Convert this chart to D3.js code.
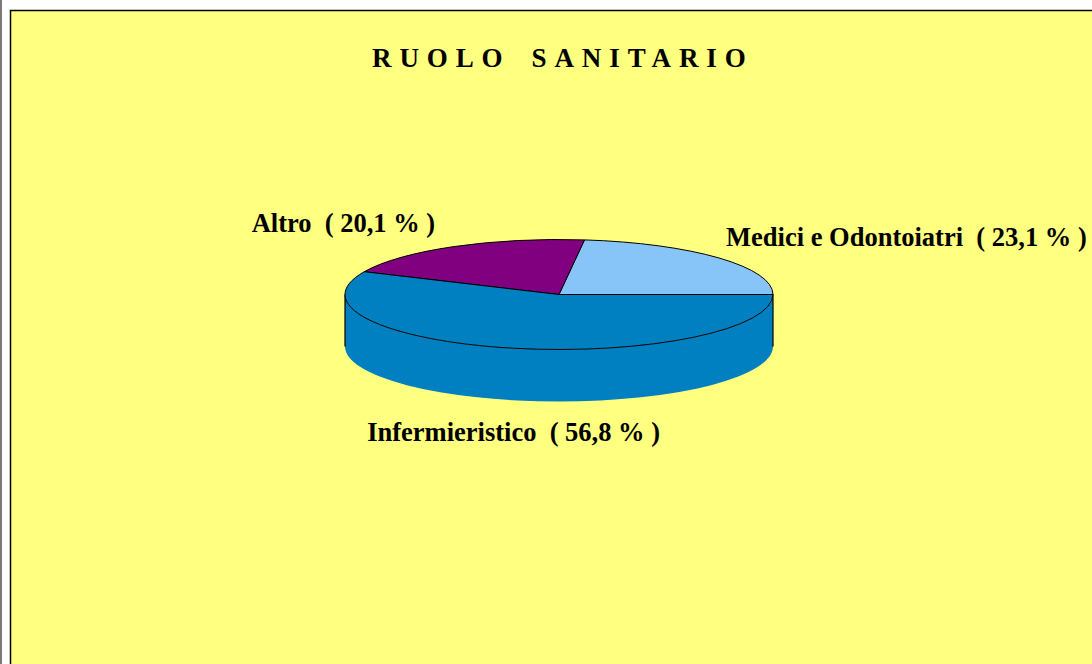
<!DOCTYPE html>
<html>
<head>
<meta charset="utf-8">
<script src="https://cdn.jsdelivr.net/npm/d3@7"></script>
<style>
  html, body { margin: 0; padding: 0; background: #fff; }
  svg { display: block; }
  text { font-family: 'Liberation Serif', 'Times New Roman', serif; font-weight: bold; fill: #000; }
</style>
</head>
<body>
<div id="chart"></div>
<script>
const categories = ['Medici e Odontoiatri', 'Altro', 'Infermieristico'];
const values = [23.1, 20.1, 56.8];
const colors = ['#87c5f9', '#800080', '#0080c0'];
const titleWords = ['RUOLO', 'SANITARIO'];

const width = 1092;
const height = 664;

// ellipse geometry of the 3d pie
const cx = 559;
const cy = 294.5;
const rx = 214;
const ry = 55;
const depth = 52;

// label offsets from the slice mid point on the rim
const labelOffsets = [[7, -12], [-19, -15], [0, 41]];

const svg = d3
  .select('#chart')
  .append('svg')
  .attr('width', width)
  .attr('height', height);

/* Frame
-----------------------------------------------------------------------------*/
svg.append('rect')
  .attr('x', 0).attr('y', 0)
  .attr('width', 2).attr('height', height)
  .attr('fill', '#7a7a7a');

svg.append('rect')
  .attr('x', 10).attr('y', 10)
  .attr('width', width).attr('height', height)
  .attr('fill', '#ffff80');

svg.append('path')
  .attr('d', `M10.5,${height} V10.5 H${width}`)
  .attr('fill', 'none')
  .attr('stroke', '#000')
  .attr('stroke-width', 1.5);

svg.append('text')
  .attr('x', 372)
  .attr('y', 67)
  .attr('font-size', 27)
  .attr('letter-spacing', 7.9)
  .selectAll('tspan')
  .data(titleWords)
  .join('tspan')
  .attr('dx', (d, i) => (i ? 21 : 0))
  .text((d) => d);

/* Pie
-----------------------------------------------------------------------------*/
const data = categories.map((name, i) => ({ name, value: values[i], color: colors[i] }));

const pie = d3.pie()
  .sort(null)
  .value((d) => d.value)
  .startAngle(Math.PI / 2)
  .endAngle(Math.PI / 2 - 2 * Math.PI);

// convert d3 angle (clockwise from north) to screen angle (counterclockwise from east)
const toTheta = (a) => Math.PI / 2 - a;
const px = (t) => cx + rx * Math.cos(t);
const py = (t, dy = 0) => cy - ry * Math.sin(t) + dy;

const arcs = pie(data).map((d) => ({
  ...d,
  t0: toTheta(d.startAngle),
  t1: toTheta(d.endAngle),
}));

function topPath(d) {
  const large = d.t1 - d.t0 > Math.PI ? 1 : 0;
  return `M${cx},${cy} L${px(d.t0)},${py(d.t0)} A${rx},${ry} 0 ${large} 0 ${px(d.t1)},${py(d.t1)} Z`;
}

function sidePath(d) {
  const a = Math.max(d.t0, Math.PI);
  const b = Math.min(d.t1, 2 * Math.PI);
  if (b <= a) return null;
  const large = b - a > Math.PI ? 1 : 0;
  return `M${px(a)},${py(a)} A${rx},${ry} 0 ${large} 0 ${px(b)},${py(b)}` +
    ` L${px(b)},${py(b, depth)} A${rx},${ry} 0 ${large} 1 ${px(a)},${py(a, depth)} Z`;
}

const pieGroup = svg.append('g').attr('class', 'pie');

pieGroup.selectAll('path.side')
  .data(arcs.filter((d) => sidePath(d)))
  .join('path')
  .attr('class', 'side')
  .attr('d', sidePath)
  .attr('fill', (d) => d.data.color);

// side edges at the left and right extremes
pieGroup.selectAll('line.edge')
  .data([0, Math.PI])
  .join('line')
  .attr('class', 'edge')
  .attr('x1', (t) => px(t)).attr('x2', (t) => px(t))
  .attr('y1', (t) => py(t)).attr('y2', (t) => py(t, depth))
  .attr('stroke', '#000')
  .attr('stroke-width', 1.2);

pieGroup.selectAll('path.top')
  .data(arcs)
  .join('path')
  .attr('class', 'top')
  .attr('d', topPath)
  .attr('fill', (d) => d.data.color)
  .attr('stroke', '#000')
  .attr('stroke-width', 1)
  .attr('stroke-linejoin', 'round');

/* Labels
-----------------------------------------------------------------------------*/
svg.selectAll('text.label')
  .data(arcs)
  .join('text')
  .attr('class', 'label')
  .attr('font-size', 26.5)
  .attr('text-anchor', (d) => {
    const c = Math.cos((d.t0 + d.t1) / 2);
    return c > 0.3 ? 'start' : c < -0.3 ? 'end' : 'middle';
  })
  .attr('x', (d, i) => px((d.t0 + d.t1) / 2) + labelOffsets[i][0])
  .attr('y', (d, i) => {
    const t = (d.t0 + d.t1) / 2;
    return py(t, Math.sin(t) < 0 ? depth : 0) + labelOffsets[i][1];
  })
  .attr('xml:space', 'preserve')
  .text((d) => `${d.data.name}  ( ${d3.format('.1f')(d.data.value).replace('.', ',')} % )`);
</script>
</body>
</html>
